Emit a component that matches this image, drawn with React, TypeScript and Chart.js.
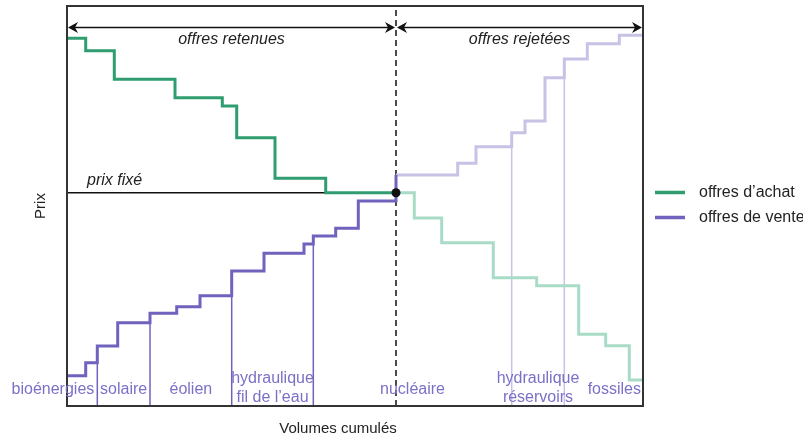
import React, { useEffect, useRef } from "react";
import { Chart, registerables } from "chart.js";

Chart.register(...registerables);

// Volume axis (arbitrary units), price axis (arbitrary units)
const VOL_MAX = 576;
const PRICE_MAX = 400;
const EQ_VOLUME = 329; // volume cumulé retenu
const EQ_PRICE = 213.3; // prix fixé
const ARROW_LEVEL = 379;

// offres d'achat (demand), step starts and price levels
const buyRetainedX = [0, 18.7, 47.3, 108, 155.3, 169.7, 208, 258.7];
const buyRetainedY = [367.7, 355.3, 326.7, 308.3, 300, 268.3, 227.7, 213.3];
const buyRejectedX = [329, 347.3, 374.7, 426.3, 469.7, 511.7, 538.7, 562.3];
const buyRejectedY = [213.3, 188, 163.3, 128.3, 120.3, 71.7, 60.3, 26];

// offres de vente (supply), step starts and price levels
const sellRetainedX = [0, 18.7, 30.3, 50.7, 83, 109.7, 133, 164.7, 197, 237, 246.3, 268.7, 291.3];
const sellRetainedY = [30.3, 43.3, 60, 83.3, 92.7, 99.3, 110.3, 135, 152.7, 162, 170, 177.7, 205];
const sellRejectedX = [329, 390.7, 409, 444.7, 458, 478, 497.3, 520.3, 552.3];
const sellRejectedY = [231, 242.7, 259.3, 273.3, 285, 328.3, 347, 362.3, 370.7];

// technology boundaries (indices into the sell step arrays)
const sepRetainedIdx = [2, 4, 7, 10];
const sepRejectedIdx = [3, 6];

const categoryLabels = [
  ["bioénergies"],
  ["solaire"],
  ["éolien"],
  ["hydraulique", "fil de l’eau"],
  ["nucléaire"],
  ["hydraulique", "réservoirs"],
  ["fossiles"],
];

const legendLabels = ["offres d’achat", "offres de vente"];

const GREEN = "#2f9d70";
const GREEN_LIGHT = "#a9dcc6";
const PURPLE = "#6f63bd";
const PURPLE_LIGHT = "#c8c2e6";
const LABEL_PURPLE = "#7b70c8";
const INK = "#222222";
const FONT = "Liberation Sans, Arial, sans-serif";

function stepPoints(xs: number[], ys: number[], endX: number, endY: number) {
  const pts = xs.map((x, i) => ({ x, y: ys[i] }));
  pts.push({ x: endX, y: endY });
  return pts;
}

function drawArrowHead(ctx: CanvasRenderingContext2D, x: number, y: number, dir: number) {
  const len = 10;
  const half = 5.5;
  const notch = 3;
  ctx.beginPath();
  ctx.moveTo(x, y);
  ctx.lineTo(x - dir * len, y - half);
  ctx.lineTo(x - dir * (len - notch), y);
  ctx.lineTo(x - dir * len, y + half);
  ctx.closePath();
  ctx.fill();
}

const overlayPlugin = {
  id: "overlay",
  afterDraw(chart: any) {
    const ctx: CanvasRenderingContext2D = chart.ctx;
    const { left, right, top, bottom } = chart.chartArea;
    const xs = chart.scales.x;
    const ys = chart.scales.y;
    ctx.save();

    // frame
    ctx.strokeStyle = "#333333";
    ctx.lineWidth = 2;
    ctx.strokeRect(left, top, right - left, bottom - top);

    // arrows
    const ay = Math.round(ys.getPixelForValue(ARROW_LEVEL)) + 0.5;
    const qx = xs.getPixelForValue(EQ_VOLUME);
    ctx.strokeStyle = "#111";
    ctx.fillStyle = "#111";
    ctx.lineWidth = 1.5;
    const segs = [
      [left + 1, qx - 1],
      [qx + 1, right - 1],
    ];
    segs.forEach(([a, b]) => {
      ctx.beginPath();
      ctx.moveTo(a + 3, ay);
      ctx.lineTo(b - 3, ay);
      ctx.stroke();
      drawArrowHead(ctx, a, ay, -1);
      drawArrowHead(ctx, b, ay, 1);
    });

    // titles of the zones
    ctx.fillStyle = INK;
    ctx.font = `italic 16px ${FONT}`;
    ctx.textAlign = "center";
    ctx.textBaseline = "middle";
    ctx.fillText("offres retenues", (left + qx) / 2, 40);
    ctx.fillText("offres rejetées", (qx + right) / 2, 40);
    ctx.textAlign = "left";
    ctx.fillText("prix fixé", left + 20, ys.getPixelForValue(EQ_PRICE) - 12);

    // category labels
    const bounds = [0, ...sepRetainedIdx.map((i) => sellRetainedX[i]), ...sepRejectedIdx.map((i) => sellRejectedX[i]), VOL_MAX];
    ctx.fillStyle = LABEL_PURPLE;
    ctx.font = `16px ${FONT}`;
    categoryLabels.forEach((lines, i) => {
      const x0 = xs.getPixelForValue(bounds[i]);
      const x1 = xs.getPixelForValue(bounds[i + 1]);
      let x = (x0 + x1) / 2;
      ctx.textAlign = "center";
      if (i === 0) {
        ctx.textAlign = "right";
        x = x1 - 3;
      } else if (i === categoryLabels.length - 1) {
        ctx.textAlign = "right";
        x = x1 - 2;
      }
      if (lines.length === 1) {
        ctx.fillText(lines[0], x, 390);
      } else {
        ctx.fillText(lines[0], x, 379);
        ctx.fillText(lines[1], x, 397.5);
      }
    });

    // axis titles
    ctx.fillStyle = INK;
    ctx.font = `15px ${FONT}`;
    ctx.textAlign = "center";
    ctx.fillText("Volumes cumulés", 338, 429);
    ctx.save();
    ctx.translate(41, 206);
    ctx.rotate(-Math.PI / 2);
    ctx.fillText("Prix", 0, 0);
    ctx.restore();

    // legend
    const legendColors = [GREEN, PURPLE];
    legendLabels.forEach((lab, i) => {
      const ly = 192.5 + i * 25;
      ctx.strokeStyle = legendColors[i];
      ctx.lineWidth = 3.5;
      ctx.beginPath();
      ctx.moveTo(655, ly);
      ctx.lineTo(685, ly);
      ctx.stroke();
      ctx.fillStyle = INK;
      ctx.textAlign = "left";
      ctx.font = `16px ${FONT}`;
      ctx.fillText(lab, 699, ly);
    });

    ctx.restore();
  },
};

export default function App() {
  const ref = useRef<HTMLCanvasElement | null>(null);

  useEffect(() => {
    if (!ref.current) return;
    const base = { pointRadius: 0, fill: false, tension: 0, showLine: true };
    const separators: any[] = [];
    sepRetainedIdx.forEach((i) =>
      separators.push({
        ...base,
        data: [
          { x: sellRetainedX[i], y: 0 },
          { x: sellRetainedX[i], y: sellRetainedY[i] },
        ],
        borderColor: PURPLE,
        borderWidth: 1.5,
        order: 6,
      })
    );
    sepRejectedIdx.forEach((i) =>
      separators.push({
        ...base,
        data: [
          { x: sellRejectedX[i], y: 0 },
          { x: sellRejectedX[i], y: sellRejectedY[i] },
        ],
        borderColor: PURPLE_LIGHT,
        borderWidth: 1.5,
        order: 7,
      })
    );

    const chart = new Chart(ref.current, {
      type: "scatter",
      data: {
        datasets: [
          {
            ...base,
            label: legendLabels[0],
            data: stepPoints(buyRetainedX, buyRetainedY, EQ_VOLUME, buyRejectedY[0]),
            borderColor: GREEN,
            borderWidth: 3,
            stepped: "before",
            order: 2,
          },
          {
            ...base,
            label: legendLabels[1],
            data: stepPoints(sellRetainedX, sellRetainedY, EQ_VOLUME, sellRejectedY[0]),
            borderColor: PURPLE,
            borderWidth: 3,
            stepped: "before",
            order: 1,
          },
          {
            ...base,
            data: stepPoints(buyRejectedX, buyRejectedY, VOL_MAX, buyRejectedY[buyRejectedY.length - 1]),
            borderColor: GREEN_LIGHT,
            borderWidth: 3,
            stepped: "before",
            order: 4,
          },
          {
            ...base,
            data: stepPoints(sellRejectedX, sellRejectedY, VOL_MAX, sellRejectedY[sellRejectedY.length - 1]),
            borderColor: PURPLE_LIGHT,
            borderWidth: 3,
            stepped: "before",
            order: 5,
          },
          ...separators,
          {
            ...base,
            data: [
              { x: 0, y: EQ_PRICE },
              { x: EQ_VOLUME, y: EQ_PRICE },
            ],
            borderColor: "#111",
            borderWidth: 1.5,
            order: 3,
          },
          {
            ...base,
            data: [
              { x: EQ_VOLUME, y: 0 },
              { x: EQ_VOLUME, y: PRICE_MAX },
            ],
            borderColor: "#111",
            borderWidth: 1.5,
            borderDash: [6, 4],
            order: 8,
          },
          {
            data: [{ x: EQ_VOLUME, y: EQ_PRICE }],
            showLine: false,
            pointRadius: 4.5,
            pointBackgroundColor: "#111",
            pointBorderColor: "#111",
            pointBorderWidth: 0,
            order: 0,
          },
        ],
      },
      options: {
        responsive: false,
        animation: false,
        events: [],
        layout: { padding: { left: 67, right: 160, top: 6, bottom: 31 } },
        scales: {
          x: { type: "linear", min: 0, max: VOL_MAX, display: false },
          y: { type: "linear", min: 0, max: PRICE_MAX, display: false },
        },
        plugins: { legend: { display: false }, tooltip: { enabled: false } },
      },
      plugins: [overlayPlugin],
    } as any);
    return () => chart.destroy();
  }, []);

  return (
    <div style={{ position: "absolute", left: 0, top: 0, width: 803, height: 437, background: "#fff" }}>
      <canvas ref={ref} width={803} height={437} style={{ display: "block" }} />
    </div>
  );
}
